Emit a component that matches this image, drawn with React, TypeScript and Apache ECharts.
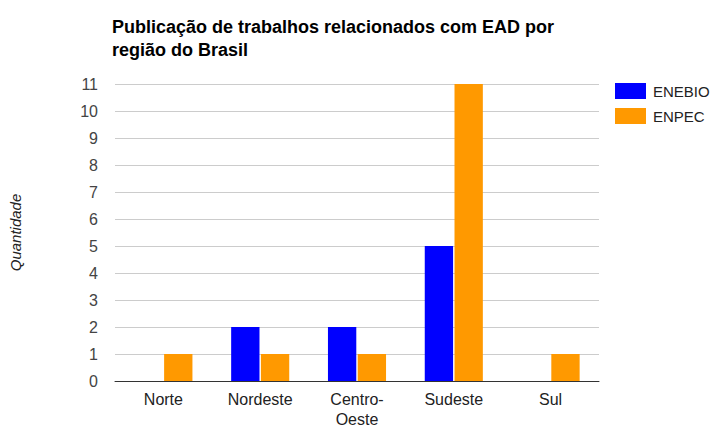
import React, { useEffect, useRef } from "react";
import * as echarts from "echarts";

const categories = ["Norte", "Nordeste", "Centro-Oeste", "Sudeste", "Sul"];
const seriesNames = ["ENEBIO", "ENPEC"];
const enebio = [0, 2, 2, 5, 0];
const enpec = [1, 1, 1, 11, 1];
const titleText = "Publicação de trabalhos relacionados com EAD por\nregião do Brasil";
const yName = "Quantidade";

const FONT = "Arial, 'Liberation Sans', sans-serif";

export default function App() {
  const ref = useRef<HTMLDivElement>(null);
  useEffect(() => {
    if (!ref.current) return;
    const chart = echarts.init(ref.current, null, { renderer: "svg" });
    chart.setOption({
      animation: false,
      backgroundColor: "#ffffff",
      title: {
        text: titleText,
        left: 107,
        top: 10,
        textStyle: { fontFamily: FONT, fontSize: 18, fontWeight: "bold", color: "#000", lineHeight: 23 },
      },
      legend: {
        orient: "vertical",
        left: 610,
        top: 78,
        itemWidth: 31,
        itemHeight: 16,
        itemGap: 9,
        icon: "rect",
        data: seriesNames,
        textStyle: { fontFamily: FONT, fontSize: 15, color: "#222", padding: [0, 0, 0, 2] },
      },
      grid: { left: 112, right: 113, top: 84, bottom: 45, containLabel: false },
      xAxis: {
        type: "category",
        data: categories,
        axisLine: { lineStyle: { color: "#333", width: 1 } },
        axisTick: { show: false },
        axisLabel: {
          fontFamily: FONT,
          fontSize: 16,
          color: "#222",
          margin: 8,
          lineHeight: 20,
          formatter: (v: string) => v.replace("-", "-\n"),
        },
      },
      yAxis: {
        type: "value",
        min: 0,
        max: 11,
        interval: 1,
        name: yName,
        nameLocation: "middle",
        nameGap: 92,
        nameRotate: 90,
        nameTextStyle: { fontFamily: FONT, fontSize: 15, fontStyle: "italic", color: "#222" },
        axisLine: { show: false },
        axisTick: { show: false },
        axisLabel: { fontFamily: FONT, fontSize: 16, color: "#444", margin: 17 },
        splitLine: { lineStyle: { color: "#cccccc", width: 1 } },
      },
      series: [
        {
          name: seriesNames[0],
          type: "bar",
          data: enebio,
          itemStyle: { color: "#0000ff" },
          barGap: "5%",
          barCategoryGap: "40%",
        },
        {
          name: seriesNames[1],
          type: "bar",
          data: enpec,
          itemStyle: { color: "#ff9900" },
          barGap: "5%",
          barCategoryGap: "40%",
        },
      ],
    });
    return () => chart.dispose();
  }, []);
  return (
    <div
      ref={ref}
      style={{ position: "absolute", left: 0, top: 0, width: 712, height: 429 }}
    />
  );
}
